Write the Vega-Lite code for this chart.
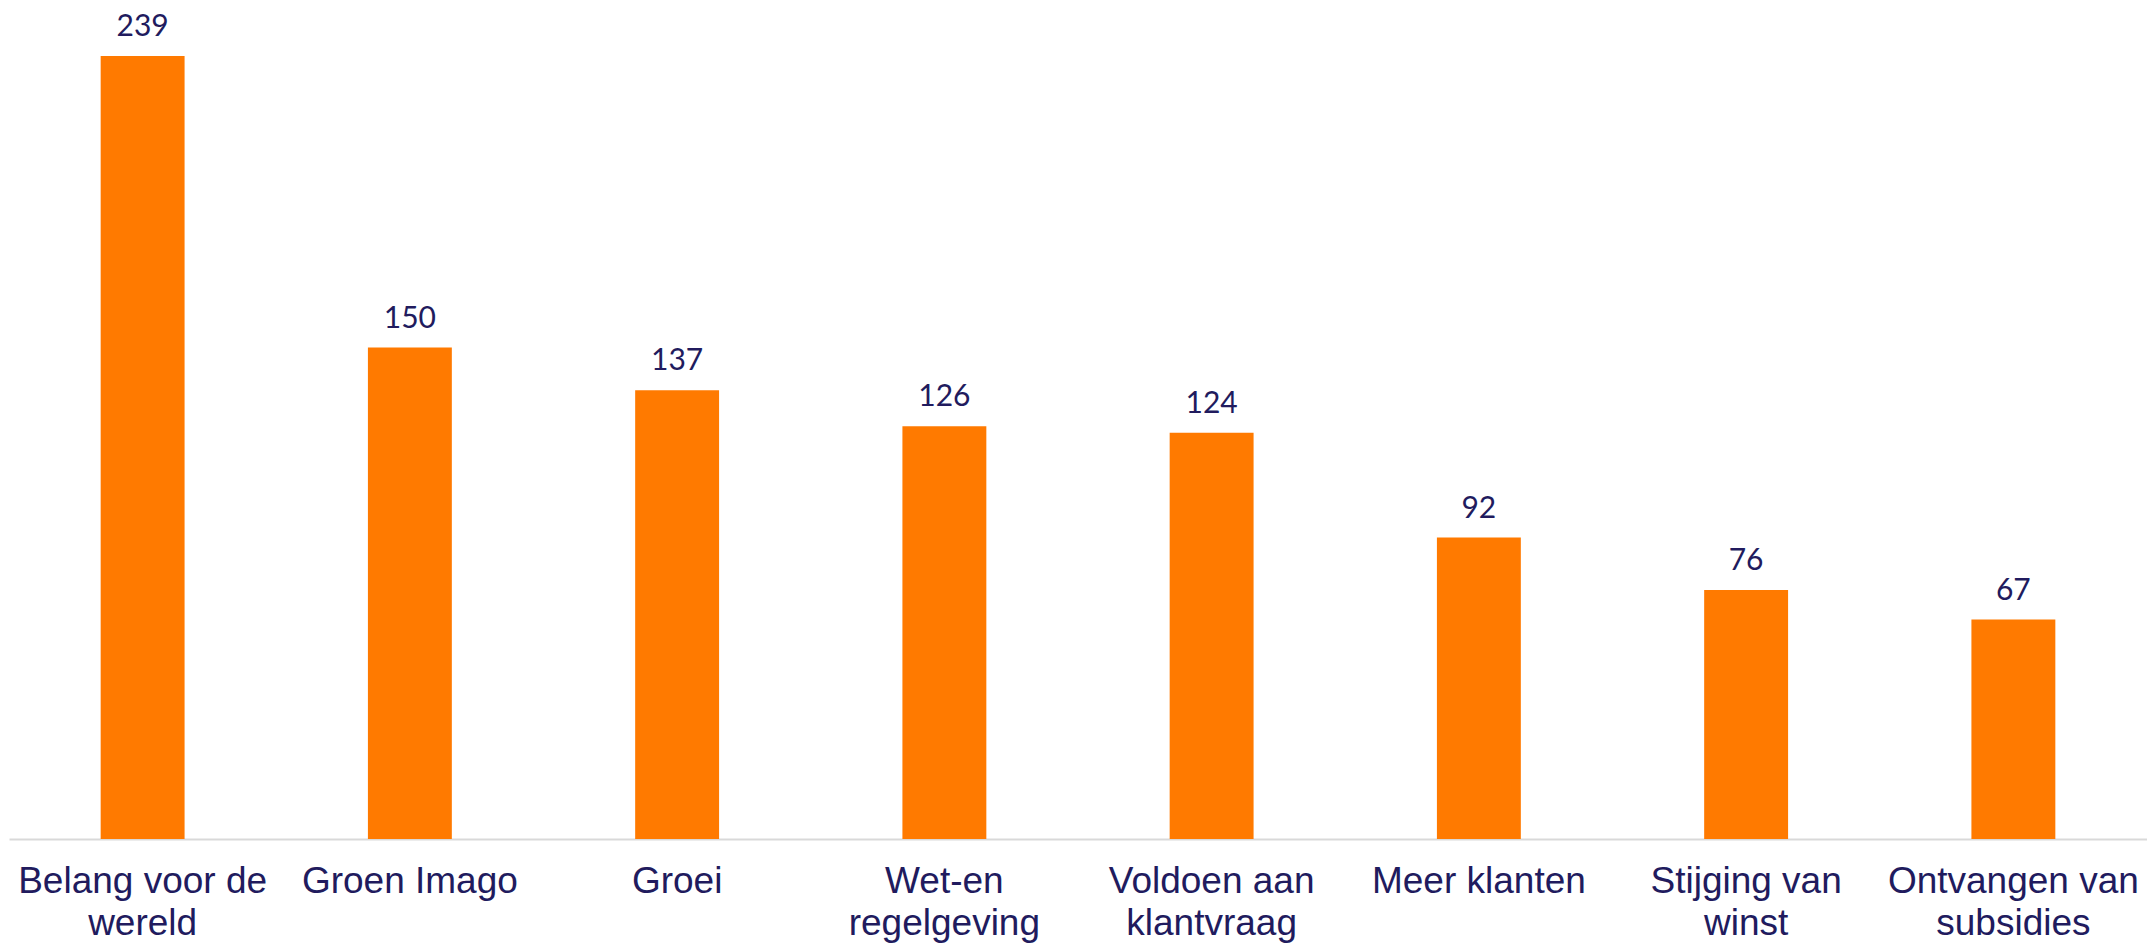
{
  "$schema": "https://vega.github.io/schema/vega-lite/v6.json",
  "width": 2138,
  "height": 819,
  "autosize": {"type": "none"},
  "padding": {"left": 9, "top": 20, "right": 0, "bottom": 106},
  "background": "white",
  "config": {"view": {"stroke": null}},
  "data": {
    "values": [
      {"cat": "Belang voor de|wereld", "value": 239},
      {"cat": "Groen Imago", "value": 150},
      {"cat": "Groei", "value": 137},
      {"cat": "Wet-en|regelgeving", "value": 126},
      {"cat": "Voldoen aan|klantvraag", "value": 124},
      {"cat": "Meer klanten", "value": 92},
      {"cat": "Stijging van|winst", "value": 76},
      {"cat": "Ontvangen van|subsidies", "value": 67}
    ]
  },
  "encoding": {
    "x": {
      "field": "cat",
      "type": "nominal",
      "sort": null,
      "scale": {"paddingInner": 0.686, "paddingOuter": 0.343},
      "axis": {
        "title": null,
        "labelAngle": 0,
        "labelExpr": "split(datum.label, '|')",
        "labelFont": "Liberation Sans",
        "labelFontSize": 37,
        "labelColor": "#211b5e",
        "labelLineHeight": 42,
        "labelPadding": 24,
        "labelLimit": 0,
        "ticks": false,
        "domainColor": "#d9d9d9",
        "domainWidth": 2
      }
    },
    "y": {
      "field": "value",
      "type": "quantitative",
      "scale": {"domain": [0, 250], "nice": false},
      "axis": null
    }
  },
  "layer": [
    {"mark": {"type": "bar", "color": "#ff7a00"}},
    {
      "mark": {
        "type": "text",
        "baseline": "alphabetic",
        "dy": -20,
        "font": "Lato",
        "fontSize": 30,
        "color": "#211b5e"
      },
      "encoding": {"text": {"field": "value", "type": "quantitative"}}
    }
  ]
}
